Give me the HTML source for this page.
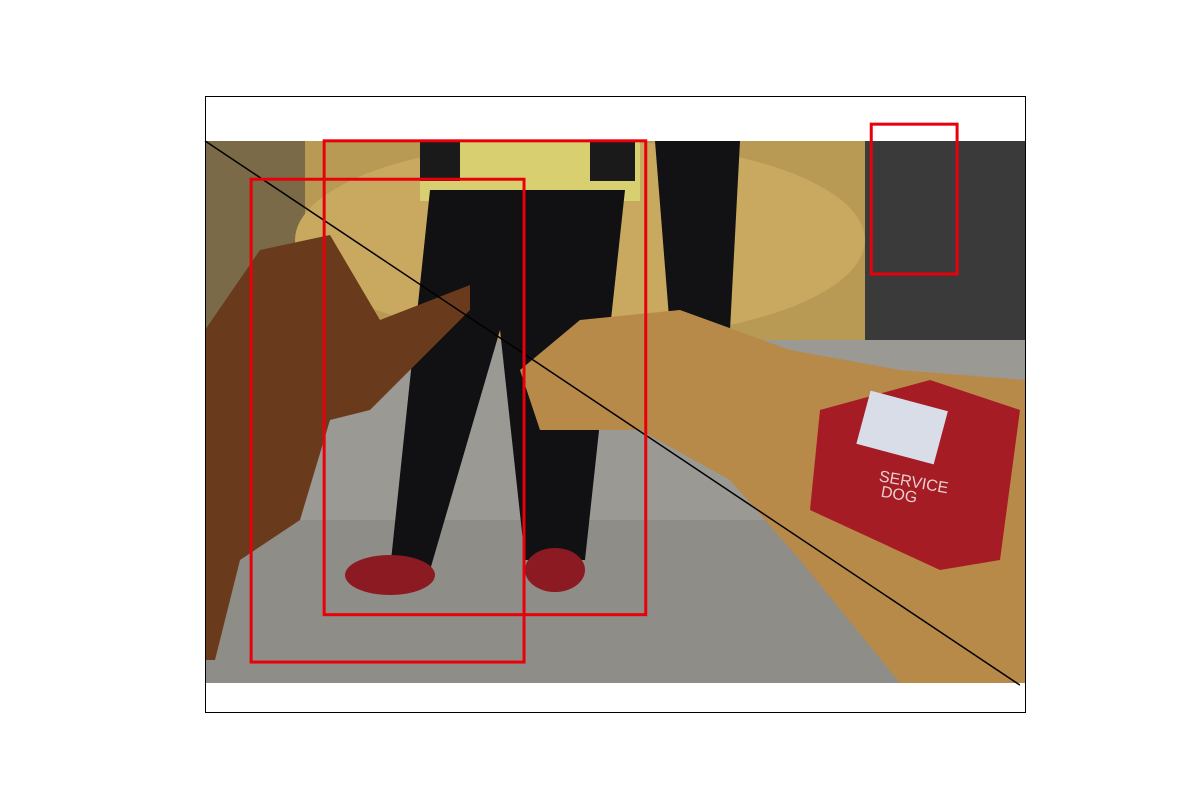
<!DOCTYPE html>
<html><head><meta charset="utf-8"><style>
html,body{margin:0;padding:0;background:#fff;width:1200px;height:800px;overflow:hidden;font-family:"Liberation Sans",sans-serif}
</style></head><body>
<svg id="chart" width="1200" height="800" viewBox="0 0 1200 800" xmlns="http://www.w3.org/2000/svg">
<defs><clipPath id="imgclip"><rect x="205" y="141" width="820" height="542"/></clipPath></defs>
<g id="photo" clip-path="url(#imgclip)">
  <rect x="205" y="141" width="820" height="542" fill="#8a8a86"/>
  <rect x="205" y="141" width="820" height="210" fill="#b89a55"/>
  <rect x="205" y="141" width="100" height="200" fill="#7a6a48"/>
  <rect x="865" y="141" width="160" height="210" fill="#3a3a3a"/>
  <rect x="205" y="340" width="820" height="343" fill="#9a9994"/>
  <rect x="205" y="520" width="820" height="163" fill="#8e8d88"/>
  <ellipse cx="580" cy="240" rx="285" ry="100" fill="#c9a85f"/>
  <rect x="420" y="141" width="220" height="60" fill="#d8d070"/>
  <rect x="420" y="141" width="40" height="40" fill="#1a1a1a"/>
  <rect x="590" y="141" width="45" height="40" fill="#1a1a1a"/>
  <path d="M430 190 L625 190 L585 560 L525 560 L500 330 L430 570 L390 570 Z" fill="#111114"/>
  <path d="M655 141 L740 141 L730 330 L670 330 Z" fill="#121214"/>
  <ellipse cx="390" cy="575" rx="45" ry="20" fill="#8c1a22"/>
  <ellipse cx="555" cy="570" rx="30" ry="22" fill="#8c1a22"/>
  <path d="M205 330 L260 250 L330 235 L380 320 L470 285 L470 310 L370 410 L330 420 L300 520 L240 560 L215 660 L205 660 Z" fill="#6a3a1c"/>
  <path d="M520 370 L580 320 L680 310 L790 350 L900 370 L1025 380 L1025 683 L900 683 L800 560 L730 480 L640 430 L540 430 Z" fill="#b88a4a"/>
  <path d="M820 410 L930 380 L1020 410 L1000 560 L940 570 L810 510 Z" fill="#a51c24"/>
  <rect x="862" y="400" width="80" height="55" fill="#d8dde8" transform="rotate(15 902 428)"/>
  <text x="878" y="485" fill="#e8d0d0" font-size="16" transform="rotate(10 900 485)">SERVICE</text>
  <text x="880" y="500" fill="#e8d0d0" font-size="16" transform="rotate(10 900 500)">DOG</text>
</g>
<g id="overlay"></g>
<rect x="205.5" y="96.5" width="820" height="616" fill="none" stroke="#000" stroke-width="1"/>
</svg>
<script>
// image coordinates (pixels of a 640x424 image)
const boxX = [36, 93, 520];
const boxY = [30, 0, -13];
const boxW = [213, 251, 67];
const boxH = [377, 370, 117];
const lineXs = [0, 636];
const lineYs = [0, 425];
const xlim = [0, 640];
const ylim = [-35, 446];
const px0 = 205, px1 = 1025, py0 = 96, py1 = 712;
function sx(v){return px0 + (v - xlim[0]) / (xlim[1] - xlim[0]) * (px1 - px0);}
function sy(v){return py0 + (v - ylim[0]) / (ylim[1] - ylim[0]) * (py1 - py0);}
const NS = "http://www.w3.org/2000/svg";
const ov = document.getElementById('overlay');
const ln = document.createElementNS(NS, 'line');
ln.setAttribute('x1', sx(lineXs[0])); ln.setAttribute('y1', sy(lineYs[0]));
ln.setAttribute('x2', sx(lineXs[1])); ln.setAttribute('y2', sy(lineYs[1]));
ln.setAttribute('stroke', '#000'); ln.setAttribute('stroke-width', '1.5');


ov.appendChild(ln);
for (let i = 0; i < boxX.length; i++) {
  const r = document.createElementNS(NS, 'rect');
  r.setAttribute('x', sx(boxX[i])); r.setAttribute('y', sy(boxY[i]));
  r.setAttribute('width', sx(boxX[i] + boxW[i]) - sx(boxX[i]));
  r.setAttribute('height', sy(boxY[i] + boxH[i]) - sy(boxY[i]));
  r.setAttribute('fill', 'none'); r.setAttribute('stroke', '#e8000b'); r.setAttribute('stroke-width', '3');
  
  
  ov.appendChild(r);
}
</script>
</body></html>
